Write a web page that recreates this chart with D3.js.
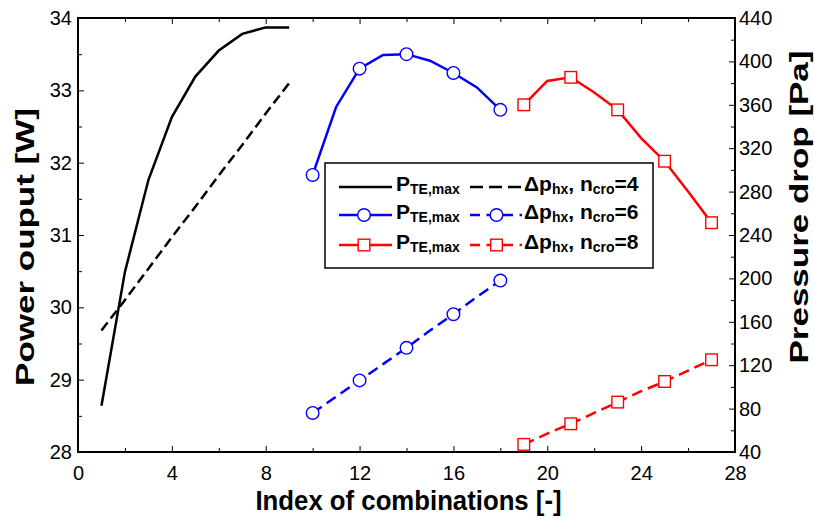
<!DOCTYPE html>
<html><head><meta charset="utf-8">
<script src="https://cdn.jsdelivr.net/npm/d3@7"></script>
<style>body{margin:0;background:#fff}svg{display:block}text{font-family:"Liberation Sans",Arial,sans-serif}</style>
</head><body>
<svg id="c" width="814" height="527"></svg>
<script>
// ---- data ----
const idx4 = [1,2,3,4,5,6,7,8,9];
const power4 = [28.64,30.49,31.76,32.63,33.19,33.55,33.78,33.87,33.87];
const dp4 = [152,180,209,238,266,295,323,352,380];

const idx6 = [10,11,12,13,14,15,16,17,18];
const power6 = [31.83,32.77,33.30,33.49,33.50,33.41,33.24,33.04,32.73];
const dp6 = [76,91,106,121,136,152,167,183,198];

const idx8 = [19,20,21,22,23,24,25,26,27];
const power8 = [32.80,33.13,33.18,32.97,32.73,32.34,32.02,31.60,31.17];
const dp8 = [47,57,66,76,86,96,105,115,125];

const xTicks = [0,4,8,12,16,20,24,28];
const leftTicks = [28,29,30,31,32,33,34];
const rightTicks = [40,80,120,160,200,240,280,320,360,400,440];

const xLabel = "Index of combinations [-]";
const leftLabel = "Power ouput [W]";
const rightLabel = "Pressure drop [Pa]";

// ---- layout ----
const svg = d3.select("#c");
const L = 78, R = 735, T = 18, B = 452;
const x = d3.scaleLinear().domain([0,28]).range([L,R]);
const yL = d3.scaleLinear().domain([28,34]).range([B,T]);
const yR = d3.scaleLinear().domain([40,440]).range([B,T]);

function styleAxis(g, fs){
  g.selectAll(".domain").remove();
  g.selectAll(".tick line").attr("stroke","#000").attr("stroke-width",1);
  g.selectAll("text").attr("font-size",fs).attr("fill","#000");
}
const minorX = d3.range(2,28,4);
const minorL = d3.range(28.5,34,1);
const minorR = d3.range(60,440,40);
const TF = 20;

let g = svg.append("g").attr("transform",`translate(0,${B})`)
  .call(d3.axisBottom(x).tickValues(xTicks).tickSize(-6).tickPadding(14).tickFormat(d3.format("d")));
styleAxis(g,TF);
g = svg.append("g").attr("transform",`translate(0,${B})`).call(d3.axisBottom(x).tickValues(minorX).tickSize(-4).tickFormat(""));
styleAxis(g,TF);
g = svg.append("g").attr("transform",`translate(0,${T})`).call(d3.axisTop(x).tickValues(xTicks).tickSize(-6).tickFormat(""));
styleAxis(g,TF);
g = svg.append("g").attr("transform",`translate(0,${T})`).call(d3.axisTop(x).tickValues(minorX).tickSize(-4).tickFormat(""));
styleAxis(g,TF);
g = svg.append("g").attr("transform",`translate(${L},0)`).call(d3.axisLeft(yL).tickValues(leftTicks).tickSize(-6).tickPadding(6).tickFormat(d3.format("d")));
styleAxis(g,TF);
g = svg.append("g").attr("transform",`translate(${L},0)`).call(d3.axisLeft(yL).tickValues(minorL).tickSize(-4).tickFormat(""));
styleAxis(g,TF);
g = svg.append("g").attr("transform",`translate(${R},0)`).call(d3.axisRight(yR).tickValues(rightTicks).tickSize(-6).tickPadding(4).tickFormat(d3.format("d")));
styleAxis(g,TF);
g = svg.append("g").attr("transform",`translate(${R},0)`).call(d3.axisRight(yR).tickValues(minorR).tickSize(-4).tickFormat(""));
styleAxis(g,TF);

svg.append("rect").attr("x",L).attr("y",T).attr("width",R-L).attr("height",B-T)
  .attr("fill","none").attr("stroke","#000").attr("stroke-width",2);

// axis titles (narrow bold look)
svg.append("text").attr("transform",`translate(${(L+R)/2 + 2},510) scale(0.92,1)`).attr("text-anchor","middle")
  .attr("font-size",28).attr("font-weight","bold").text(xLabel);
svg.append("text").attr("transform",`translate(34,${(T+B)/2+12}) scale(0.74,1) rotate(-90)`).attr("text-anchor","middle")
  .attr("font-size",35).attr("font-weight","bold").text(leftLabel);
svg.append("text").attr("transform",`translate(808,${(T+B)/2-28}) scale(0.74,1) rotate(-90)`).attr("text-anchor","middle")
  .attr("font-size",35).attr("font-weight","bold").text(rightLabel);

// ---- series ----
const series = [
  {idx:idx4, p:power4, dp:dp4, color:"#000", marker:null, dash:"10,5"},
  {idx:idx6, p:power6, dp:dp6, color:"#0000ff", marker:"circle", dash:"11,6"},
  {idx:idx8, p:power8, dp:dp8, color:"#ff0000", marker:"square", dash:"11,6"}
];
function drawMarker(sel, type, color, cx, cy){
  if(type==="circle"){
    sel.append("circle").attr("cx",cx).attr("cy",cy).attr("r",6.3)
      .attr("fill","#fff").attr("stroke",color).attr("stroke-width",1.4);
  } else if(type==="square"){
    sel.append("rect").attr("x",cx-5.8).attr("y",cy-5.8).attr("width",11.6).attr("height",11.6)
      .attr("fill","#fff").attr("stroke",color).attr("stroke-width",1.4);
  }
}
series.forEach(s=>{
  const ptsP = s.idx.map((d,i)=>[x(d),yL(s.p[i])]);
  const ptsD = s.idx.map((d,i)=>[x(d),yR(s.dp[i])]);
  svg.append("path").attr("d",d3.line()(ptsP)).attr("fill","none").attr("stroke",s.color).attr("stroke-width",2.5);
  svg.append("path").attr("d",d3.line()(ptsD)).attr("fill","none").attr("stroke",s.color).attr("stroke-width",2.5).attr("stroke-dasharray",s.dash);
  if(s.marker){
    s.idx.forEach((d,i)=>{
      if(i%2===0){
        drawMarker(svg, s.marker, s.color, x(d), yL(s.p[i]));
        drawMarker(svg, s.marker, s.color, x(d), yR(s.dp[i]));
      }
    });
  }
});

// ---- legend ----
const legNs = ["4","6","8"];
const lg = svg.append("g");
lg.append("rect").attr("x",325).attr("y",163).attr("width",328).attr("height",105)
  .attr("fill","#fff").attr("stroke","#000").attr("stroke-width",1.5);
const rowsY = [187,215,245];
series.forEach((s,i)=>{
  const y = rowsY[i];
  lg.append("line").attr("x1",339).attr("x2",392).attr("y1",y).attr("y2",y).attr("stroke",s.color).attr("stroke-width",2.5);
  if(s.marker) drawMarker(lg, s.marker, s.color, 364, y);
  lg.append("line").attr("x1",470).attr("x2",522).attr("y1",y).attr("y2",y).attr("stroke",s.color).attr("stroke-width",2.5).attr("stroke-dasharray", i===0?"13,6":"10,6.5");
  if(s.marker) drawMarker(lg, s.marker, s.color, 496.5, y);
  const t1 = lg.append("text").attr("x",396).attr("y",y+4).attr("font-size",21).attr("font-weight","bold");
  t1.append("tspan").text("P");
  t1.append("tspan").attr("font-size",14).attr("dy",3).text("TE,max");
  const t2 = lg.append("text").attr("x",524).attr("y",y+4).attr("font-size",21).attr("font-weight","bold");
  t2.append("tspan").text("Δp");
  t2.append("tspan").attr("font-size",14).attr("dy",3).text("hx");
  t2.append("tspan").attr("dy",-3).text(", n");
  t2.append("tspan").attr("font-size",14).attr("dy",3).text("cro");
  t2.append("tspan").attr("dy",-3).text("=" + legNs[i]);
});
</script>
</body></html>
